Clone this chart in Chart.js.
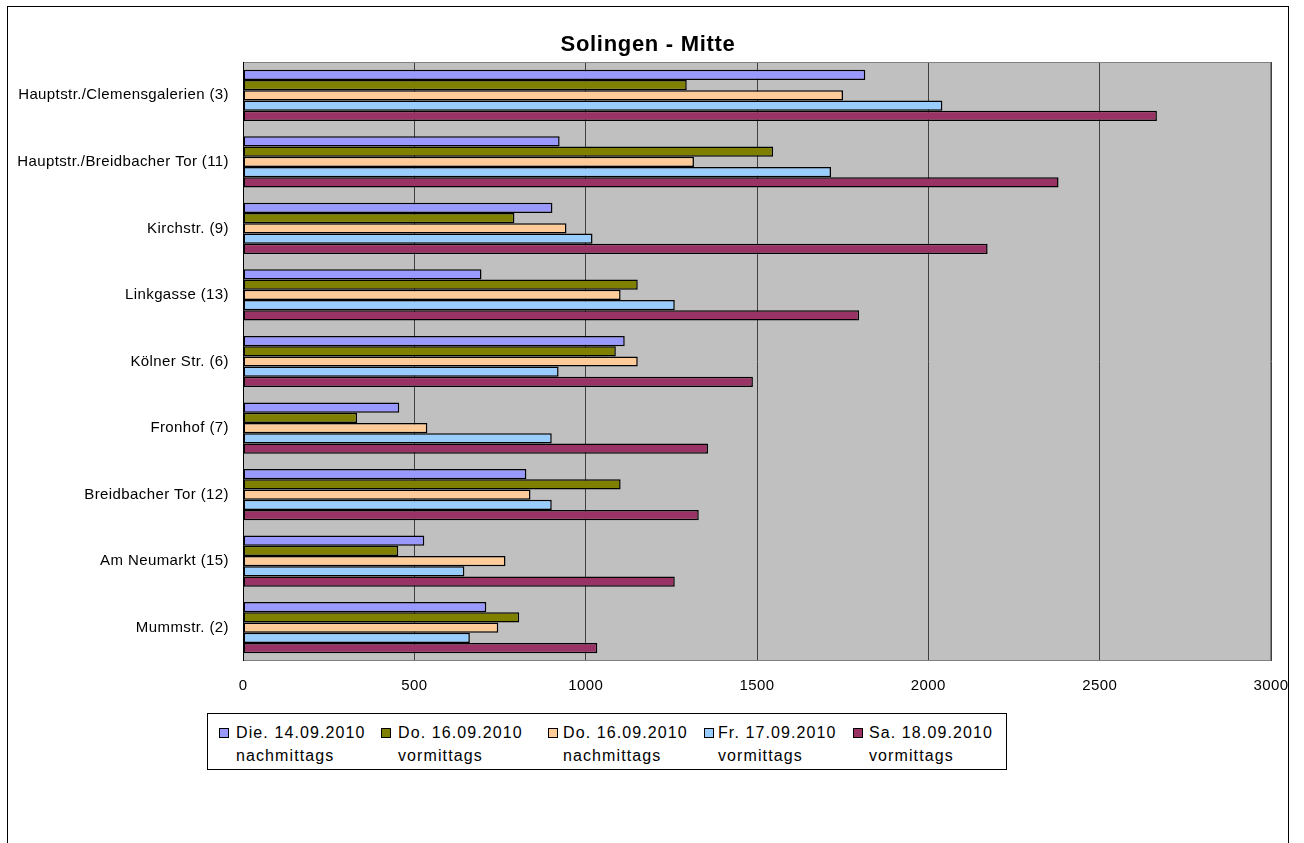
<!DOCTYPE html>
<html>
<head>
<meta charset="utf-8">
<script src="https://cdn.jsdelivr.net/npm/chart.js@4.4.0/dist/chart.umd.min.js"></script>
<style>
  html, body { margin: 0; padding: 0; background: #fff; }
  #wrap { position: relative; width: 1304px; height: 843px; overflow: hidden; font-family: "Liberation Sans", Arial, sans-serif; }
  #frame { position: absolute; left: 7px; top: 6px; width: 1282px; height: 900px; border: 1px solid #000; box-sizing: border-box; }
  #title { position: absolute; left: 0; width: 1296px; top: 31px; text-align: center; font-weight: bold; font-size: 22px; letter-spacing: 0.7px; color: #000; line-height: 26px; }
  canvas { position: absolute; left: 0; top: 0; }
  #legend { position: absolute; left: 207px; top: 713px; width: 800px; height: 57px; border: 1px solid #000; box-sizing: border-box; background: #fff; }
  .sw { position: absolute; top: 14px; width: 8px; height: 8px; border: 1px solid #000; }
  .tx { position: absolute; top: 7px; white-space: nowrap; font-size: 16px; line-height: 23px; letter-spacing: 1.1px; color: #000; }
</style>
</head>
<body>
<div id="wrap">
  <div id="frame"></div>
  <canvas id="c" width="1304" height="843"></canvas>
  <div id="title">Solingen - Mitte</div>
  <div id="legend"></div>
</div>
<script>
const categories = [
  "Hauptstr./Clemensgalerien (3)",
  "Hauptstr./Breidbacher Tor (11)",
  "Kirchstr. (9)",
  "Linkgasse (13)",
  "Kölner Str. (6)",
  "Fronhof (7)",
  "Breidbacher Tor (12)",
  "Am Neumarkt (15)",
  "Mummstr. (2)"
];
const seriesNames = [
  ["Die. 14.09.2010", "nachmittags"],
  ["Do. 16.09.2010", "vormittags"],
  ["Do. 16.09.2010", "nachmittags"],
  ["Fr. 17.09.2010", "vormittags"],
  ["Sa. 18.09.2010", "vormittags"]
];
const dieNachm  = [1816, 924, 903, 696, 1114, 456, 827, 529, 710];
const doVorm    = [1295, 1547, 792, 1152, 1088, 333, 1102, 453, 806];
const doNachm   = [1751, 1316, 944, 1102, 1152, 538, 839, 766, 745];
const frVorm    = [2041, 1716, 1020, 1260, 921, 901, 901, 646, 662];
const saVorm    = [2667, 2380, 2173, 1798, 1488, 1357, 1330, 1260, 1034];
const xTicks = [0, 500, 1000, 1500, 2000, 2500, 3000];

const seriesValues = [dieNachm, doVorm, doNachm, frVorm, saVorm];
const colors = ["#9999FF", "#808000", "#FFCC99", "#99CCFF", "#993366"];

const plotBg = {
  id: 'plotBg',
  beforeDraw(chart) {
    const {ctx, chartArea: a} = chart;
    ctx.save();
    ctx.fillStyle = '#C0C0C0';
    ctx.fillRect(a.left, a.top, a.right - a.left, a.bottom - a.top);
    ctx.restore();
    ctx.letterSpacing = '0.4px';
  },
  afterDraw(chart) {
    const {ctx, chartArea: a} = chart;
    ctx.save();
    ctx.strokeStyle = '#808080';
    ctx.lineWidth = 1;
    ctx.strokeRect(a.left + 0.5, a.top + 0.5, a.right - a.left - 1, a.bottom - a.top - 1);
    ctx.strokeStyle = '#000';
    ctx.beginPath();
    ctx.moveTo(a.left + 0.5, a.top);
    ctx.lineTo(a.left + 0.5, a.bottom);
    ctx.stroke();
    ctx.restore();
  }
};

new Chart(document.getElementById('c'), {
  type: 'bar',
  data: {
    labels: categories,
    datasets: seriesValues.map((vals, i) => ({
      label: seriesNames[i].join(' '),
      data: vals,
      backgroundColor: colors[i],
      borderColor: '#000',
      borderWidth: 1.5,
      borderSkipped: false,
      categoryPercentage: 0.77,
      barPercentage: 1.0
    }))
  },
  options: {
    indexAxis: 'y',
    responsive: false,
    animation: false,
    devicePixelRatio: 1,
    layout: { padding: { left: 0, top: 62, right: 33, bottom: 152 } },
    plugins: { legend: { display: false }, title: { display: false }, tooltip: { enabled: false } },
    scales: {
      x: {
        min: 0, max: 3000,
        afterBuildTicks(scale) { scale.ticks = xTicks.map(v => ({ value: v })); },
        afterFit(scale) { scale.height = 30; },
        grid: { color: '#404040', lineWidth: 1, drawTicks: false },
        border: { display: false },
        ticks: { color: '#000', font: { family: 'Liberation Sans', size: 15 }, padding: 16, maxRotation: 0,
                 callback: v => String(v) }
      },
      y: {
        afterFit(scale) { scale.width = 243; },
        grid: { display: false, drawTicks: false },
        border: { display: false },
        ticks: { color: '#000', font: { family: 'Liberation Sans', size: 15 }, padding: 14 }
      }
    }
  },
  plugins: [plotBg]
});

const legendX = [[11, 28], [173, 190], [340, 355], [496, 510], [645, 661]];
const lg = document.getElementById('legend');
seriesNames.forEach((lines, i) => {
  const sw = document.createElement('div');
  sw.className = 'sw';
  sw.style.left = legendX[i][0] + 'px';
  sw.style.background = colors[i];
  lg.appendChild(sw);
  const tx = document.createElement('div');
  tx.className = 'tx';
  tx.style.left = legendX[i][1] + 'px';
  tx.innerHTML = lines[0] + '<br>' + lines[1];
  lg.appendChild(tx);
});
</script>
</body>
</html>
